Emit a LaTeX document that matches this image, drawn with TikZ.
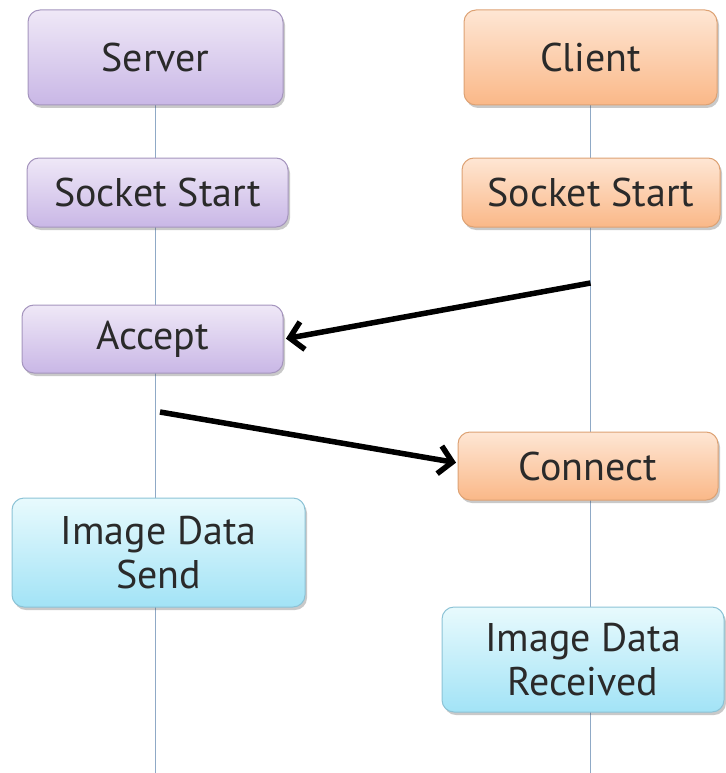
\documentclass[tikz,border=0pt]{standalone}
\usepackage{fontspec}
\setmainfont{PT Sans}
\usetikzlibrary{arrows.meta,shadows,backgrounds}
\definecolor{txt}{HTML}{2A2A2A}
\definecolor{lifec}{HTML}{8FA9C6}
\definecolor{ptop}{HTML}{EFE8F7}
\definecolor{pbot}{HTML}{C9B7E6}
\definecolor{pbrd}{HTML}{A595BE}
\definecolor{otop}{HTML}{FEE6D4}
\definecolor{obot}{HTML}{FAB888}
\definecolor{obrd}{HTML}{DDA274}
\definecolor{ctop}{HTML}{E8FAFD}
\definecolor{cbot}{HTML}{A2E3F6}
\definecolor{cbrd}{HTML}{8CC3D6}
\tikzset{
  boxbase/.style={rounded corners=12pt, inner sep=0pt, align=center, text=txt,
    font=\fontsize{40}{44}\selectfont, line width=1pt,
    drop shadow={shadow xshift=2pt, shadow yshift=-3pt, opacity=0.3, fill=black!70}},
  purplebox/.style={boxbase, draw=pbrd, top color=ptop, bottom color=pbot},
  orangebox/.style={boxbase, draw=obrd, top color=otop, bottom color=obot},
  cyanbox/.style={boxbase, draw=cbrd, top color=ctop, bottom color=cbot},
  lifeline/.style={draw=lifec, line width=1pt},
  msg/.style={draw=black, line width=5.5pt, -{Straight Barb[length=13pt,width=28pt]}, shorten >=2pt}
}
\begin{document}
\begin{tikzpicture}[x=1pt,y=-1pt]
\useasboundingbox (0,0) rectangle (725,773);
\node[purplebox, minimum width=255pt, minimum height=95pt] (server) at (155.5,57.5) {Server};
\node[orangebox, minimum width=253pt, minimum height=95pt] (client) at (590.5,57.5) {Client};
\node[purplebox, minimum width=261pt, minimum height=69pt] (ssock) at (157.5,192.5) {Socket Start};
\node[orangebox, minimum width=258pt, minimum height=69pt] (csock) at (591,192.5) {Socket Start};
\node[purplebox, minimum width=261pt, minimum height=68pt] (accept) at (152.5,339) {Accept};
\node[orangebox, minimum width=260pt, minimum height=68pt] (connect) at (588,466) {Connect};
\node[cyanbox, minimum width=293pt, minimum height=109pt] (send) at (158.5,552.5) {Image Data\\Send};
\node[cyanbox, minimum width=282pt, minimum height=105pt] (recv) at (583,659.5) {Image Data\\Received};
\coordinate (sbot) at (155.5,773);
\coordinate (cbot) at (590.5,773);
\coordinate (cstart) at (590.5,283);
\coordinate (sstart) at (160,412);
\coordinate (cend) at (458,463);
\coordinate (aend) at (284,339);
\begin{scope}[on background layer]
\draw[lifeline] (server.south) -- (sbot);
\draw[lifeline] (client.south) -- (cbot);
\end{scope}
\draw[msg] (cstart) -- (aend);
\draw[msg] (sstart) -- (cend);
\end{tikzpicture}
\end{document}
